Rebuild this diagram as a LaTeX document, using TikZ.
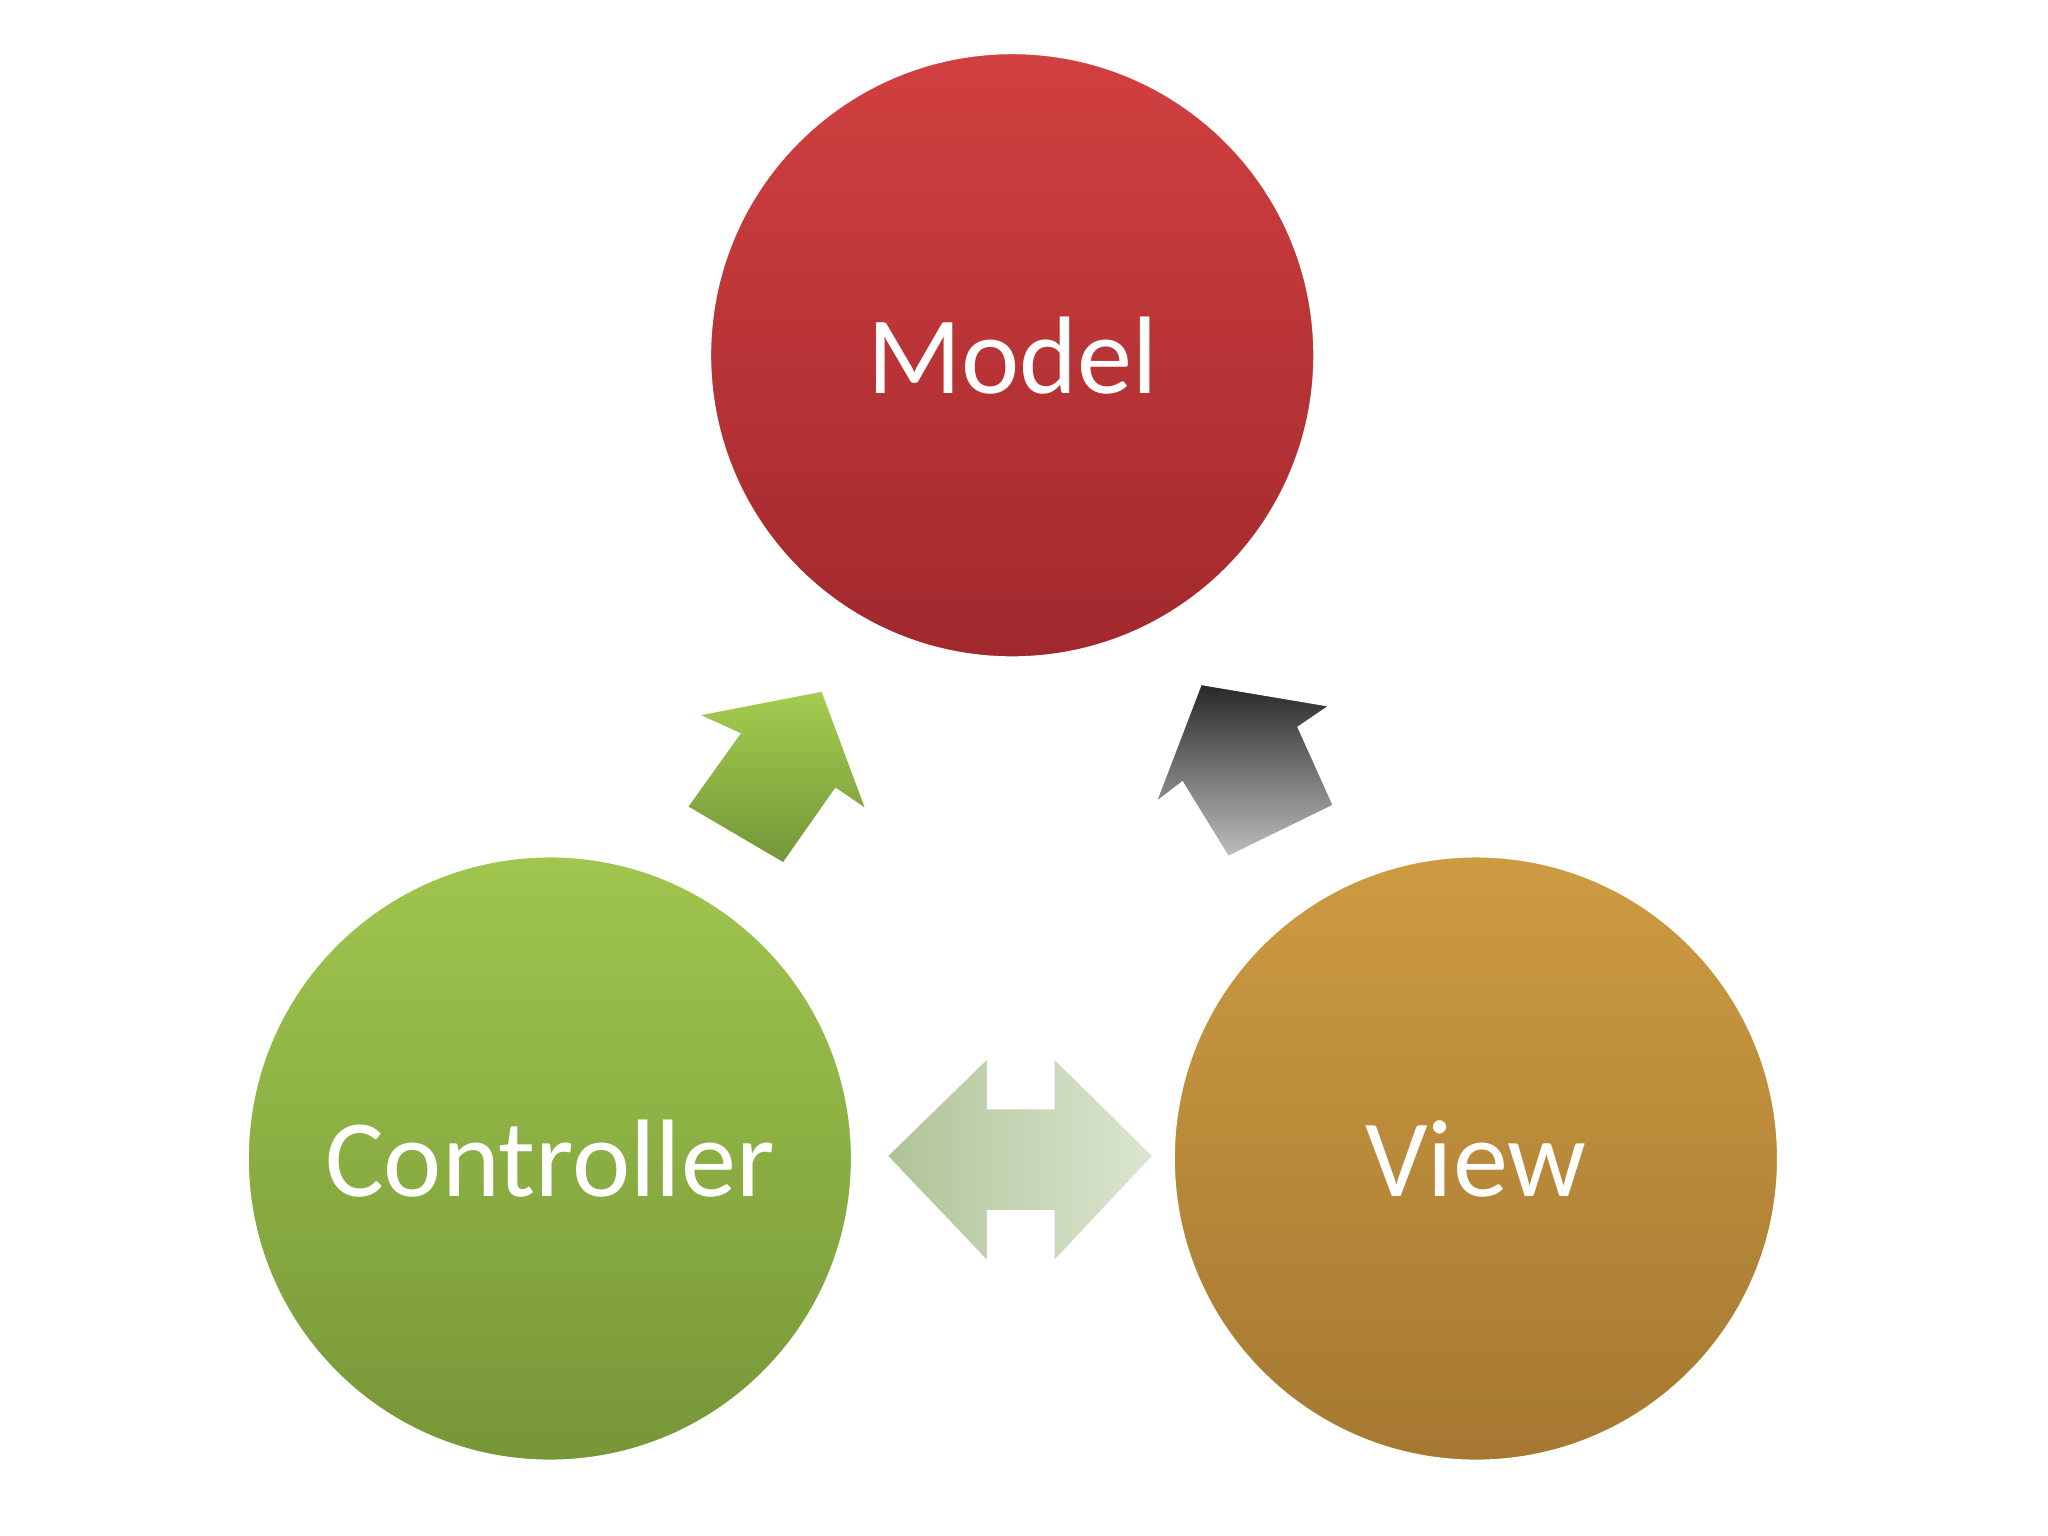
\documentclass[tikz,border=0pt]{standalone}
\usepackage{fontspec}
\setmainfont{Carlito}
\begin{document}
\begin{tikzpicture}[x=0.01cm,y=-0.01cm,
  ball/.style={circle,minimum size=4.66cm,inner sep=0pt,text=white,font=\fontsize{24}{28}\selectfont,draw=white,line width=1.5pt},
  blk/.style={draw=white,line width=0.8pt}]
\useasboundingbox (0,0) rectangle (1568,1176);
\node[ball,top color=red!60!black!20!red!75!white!90!black,bottom color=red!55!black,
  top color={rgb,255:red,210;green,64;blue,64},bottom color={rgb,255:red,160;green,40;blue,45}] (model) at (775,272) {Model};
\node[ball,top color={rgb,255:red,160;green,198;blue,78},bottom color={rgb,255:red,118;green,150;blue,55}] (ctrl) at (421,887) {Controller};
\node[ball,top color={rgb,255:red,205;green,155;blue,65},bottom color={rgb,255:red,165;green,120;blue,50}] (view) at (1130,887) {View};
% green arrow
\path[blk,top color={rgb,255:red,165;green,205;blue,80},bottom color={rgb,255:red,115;green,150;blue,55}]
  (630,528) -- (665,622) -- (640,605) -- (600,662) -- (525,618) -- (565,562) -- (532,547) -- cycle;
% dark arrow
\path[blk,top color=black!85,bottom color=black!25]
  (919,523) -- (1020,540) -- (995,557) -- (1022,617) -- (940,657) -- (905,600) -- (883,617) -- cycle;
% double arrow
\path[blk,left color={rgb,255:red,175;green,195;blue,150},right color={rgb,255:red,220;green,230;blue,210}]
  (678,885) -- (757,808) -- (757,848) -- (806,848) -- (806,808) -- (884,885) -- (806,968) -- (806,928) -- (757,928) -- (757,968) -- cycle;
\end{tikzpicture}
\end{document}
